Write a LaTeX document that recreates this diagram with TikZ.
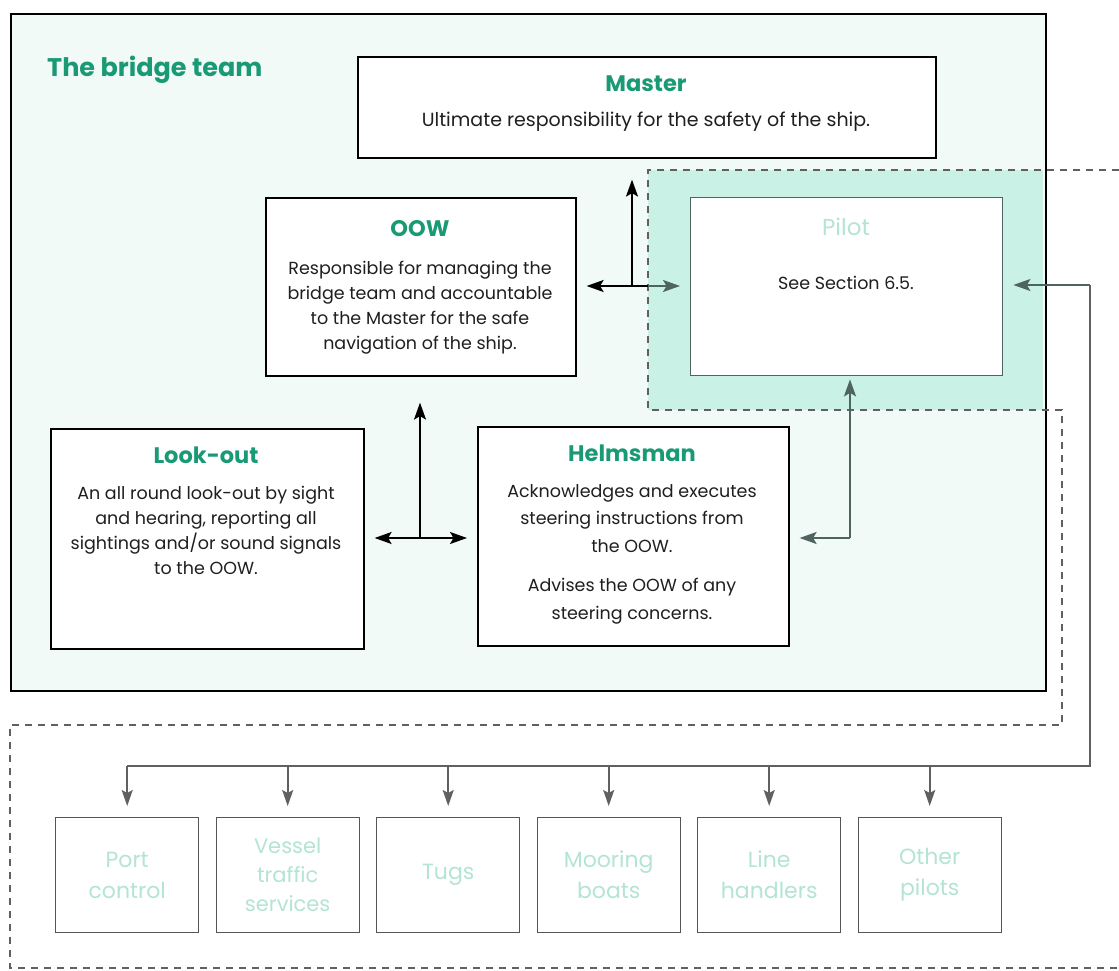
\documentclass[tikz,border=0pt]{standalone}
\usepackage{fontspec}
\setmainfont{Poppins}
\usetikzlibrary{arrows.meta}
\definecolor{tgreen}{HTML}{1A9A74}
\definecolor{pale}{HTML}{B3E4D6}
\definecolor{mint}{HTML}{C9F1E5}
\definecolor{bgmint}{HTML}{F2FAF8}
\definecolor{gline}{HTML}{4E6460}
\definecolor{greybox}{HTML}{555555}
\definecolor{dashcol}{HTML}{606060}
\tikzset{
  mainbox/.style={draw=black, line width=1.6pt, fill=white, inner sep=0pt, anchor=north west},
  pilotbox/.style={draw=gline, line width=1.4pt, fill=white, inner sep=0pt, anchor=north west},
  extbox/.style={draw=greybox, line width=1.4pt, fill=white, inner sep=0pt, anchor=north west,
     minimum width=143pt, minimum height=115pt},
  titletext/.style={text=tgreen, font=\fontsize{22.5}{26}\selectfont\bfseries, inner sep=0pt, anchor=base},
  bodytext/.style={text=black!88, font=\fontsize{17.5}{25}\selectfont, align=center, inner sep=0pt, anchor=base},
  paletext/.style={text=pale, font=\fontsize{22}{31}\selectfont, align=center, inner sep=0pt},
  arrblack/.style={draw=black, line width=1.8pt, -{Stealth[length=17pt,width=12pt,inset=3.5pt]}},
  arrgrey/.style={draw=gline, line width=1.8pt, -{Stealth[length=17pt,width=12pt,inset=3.5pt]}},
  arrbus/.style={draw=dashcol, line width=1.6pt, -{Stealth[length=16pt,width=11pt,inset=3pt]}},
  dashline/.style={draw=dashcol, line width=1.3pt, dash pattern=on 7pt off 6pt},
}
\begin{document}
\begin{tikzpicture}[x=1pt,y=-1pt]
\useasboundingbox (0,0) rectangle (1119,971);
\fill[white] (0,0) rectangle (1119,971);
% bridge team frame
\node[draw=black, line width=1.6pt, fill=bgmint, minimum width=1035pt, minimum height=677pt, inner sep=0pt, anchor=north west] (bridge) at (10,13) {};
\fill[mint] (648,170) rectangle (1043,410);
\draw[black, line width=1.6pt] (bridge.north east) -- (bridge.south east);
% external dashed outline
\draw[dashline] (1119,170) -- (648,170) -- (648,410) -- (1062,410) -- (1062,725) -- (10,725) -- (10,968) -- (1119,968);
\node[text=tgreen, font=\fontsize{25.5}{30}\selectfont\bfseries, anchor=base west, inner sep=0pt] (teamtitle) at (47,77) {The bridge team};

% boxes
\node[mainbox, minimum width=578pt, minimum height=101pt] (master) at (357,56) {};
\node[mainbox, minimum width=310pt, minimum height=178pt] (oow) at (265,197) {};
\node[pilotbox, minimum width=312pt, minimum height=178pt] (pilot) at (690,197) {};
\node[mainbox, minimum width=313pt, minimum height=220pt] (lookout) at (50,428) {};
\node[mainbox, minimum width=311pt, minimum height=219pt] (helmsman) at (477,426) {};

% texts (multi-line nodes: base anchor = baseline of last line)
\node[titletext] (mastert) at (646,92) {Master};
\node[bodytext, font=\fontsize{19}{25}\selectfont] (masterb) at (646,127) {Ultimate responsibility for the safety of the ship.};
\node[titletext] (oowt) at (420,236) {OOW};
\node[bodytext] (oowb) at (420,349) {Responsible for managing the\\bridge team and accountable\\to the Master for the safe\\navigation of the ship.};
\node[text=pale, font=\fontsize{23}{26}\selectfont, anchor=base, inner sep=0pt] (pilott) at (846,235) {Pilot};
\node[bodytext] (pilotb) at (846,289) {See Section 6.5.};
\node[titletext] (lookt) at (206,463) {Look-out};
\node[bodytext] (lookb) at (206,574) {An all round look-out by sight\\and hearing, reporting all\\sightings and/or sound signals\\to the OOW.};
\node[titletext] (helmt) at (632,461) {Helmsman};
\node[bodytext, font=\fontsize{17.5}{27.5}\selectfont] (helmb) at (632,619) {Acknowledges and executes\\steering instructions from\\the OOW.\\[12pt]Advises the OOW of any\\steering concerns.};

% external boxes
\node[extbox] (port) at (55,817) {};
\node[extbox] (vts) at (215.5,817) {};
\node[extbox] (tugs) at (376,817) {};
\node[extbox] (mooring) at (536.5,817) {};
\node[extbox] (line) at (697,817) {};
\node[extbox] (other) at (857.5,817) {};
\node[paletext] (portt) at (port.center) {Port\\control};
\node[paletext, font=\fontsize{21}{29}\selectfont] (vtst) at (vts.center) {Vessel\\traffic\\services};
\node[paletext] (tugst) at (tugs.center) {Tugs};
\node[paletext] (mooringt) at (mooring.center) {Mooring\\boats};
\node[paletext] (linet) at (line.center) {Line\\handlers};
\node[paletext] (othert) at (other.center) {Other\\pilots};

% connectors: look-out / helmsman / OOW
\coordinate (j1) at (420,538);
\draw[arrblack, shorten >=10pt] (j1) -- (lookout.east |- j1);
\draw[arrblack, shorten >=10pt] (j1) -- (helmsman.west |- j1);
\draw[arrblack, shorten >=26pt] (j1) -- (oow.south -| j1);
% OOW / pilot / master
\coordinate (j2) at (632,286);
\draw[arrblack, shorten >=10pt] (j2) -- (oow.east |- j2);
\draw[arrblack, shorten >=21pt] (j2) -- (master.south -| j2);
\draw[black, line width=1.8pt] (j2) -- (648,286);
\draw[arrgrey, shorten >=10pt] (648,286) -- (pilot.west |- j2);
% helmsman / pilot
\coordinate (j3) at (850,538);
\draw[arrgrey, shorten >=10pt] (j3) -- (helmsman.east |- j3);
\draw[arrgrey, shorten >=3pt] (j3) -- (pilot.south -| j3);
% pilot to external bus
\coordinate (busR) at (1090,766);
\coordinate (busL) at (port.north |- busR);
\coordinate (pilotR) at (1090,285);
\draw[line width=1.6pt, draw=dashcol] (busL) -- (busR) -- (pilotR);
\draw[arrgrey, shorten >=10pt] (pilotR) -- (pilot.east |- pilotR);
\foreach \b in {port,vts,tugs,mooring,line,other}{
  \draw[arrbus, shorten >=11pt] (\b.north |- busR) -- (\b.north);
}
\end{tikzpicture}
\end{document}
